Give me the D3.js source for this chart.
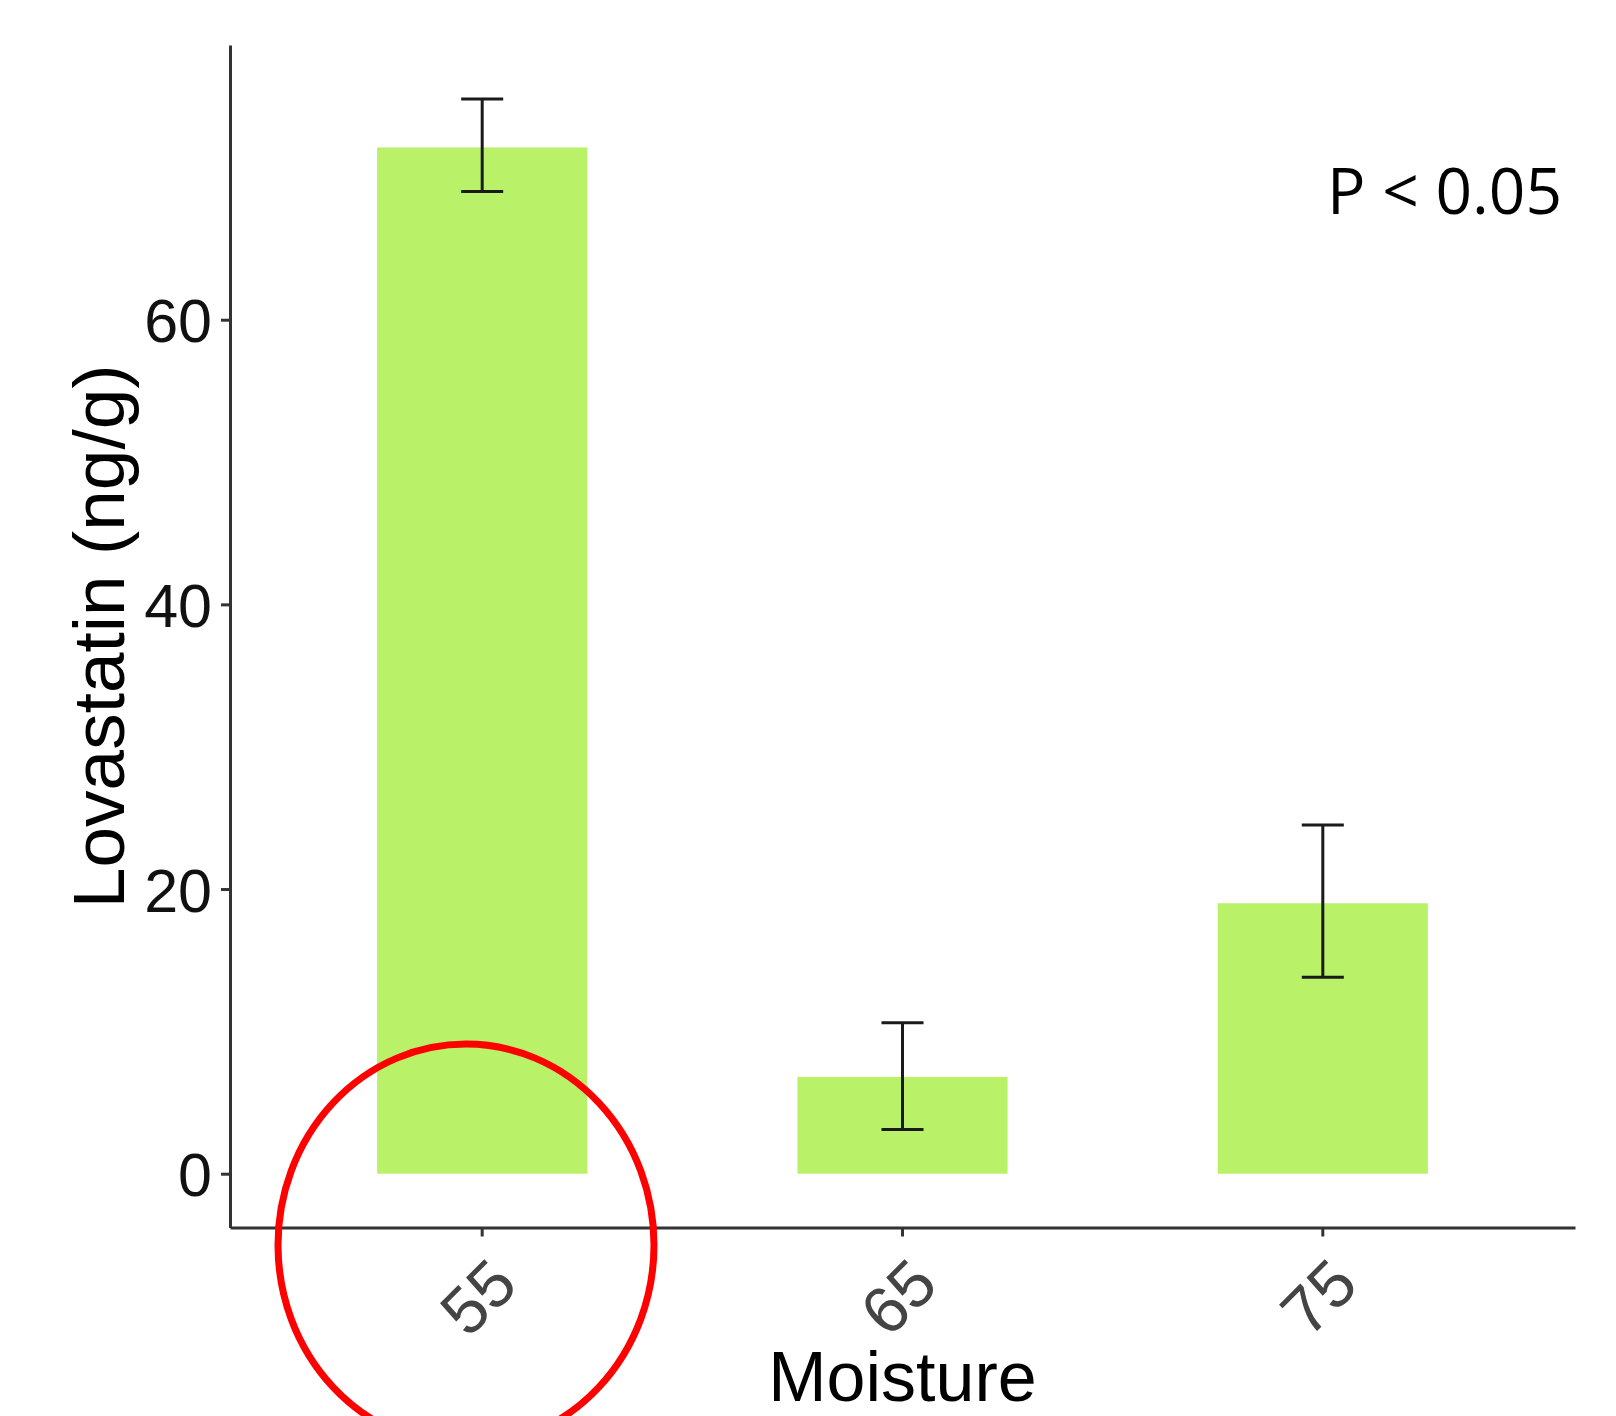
<!DOCTYPE html>
<html>
<head>
<meta charset="utf-8">
<script src="https://cdn.jsdelivr.net/npm/d3@7"></script>
<style>
  body { margin: 0; background: #fff; }
  svg { display: block; }
</style>
</head>
<body>
<script>
const width = 1616
const height = 1416

/* Data */
const moisture = ["55", "65", "75"]
const lovastatin = [72.1, 6.8, 19.0]
const errLow = [69.0, 3.1, 13.8]
const errHigh = [75.5, 10.6, 24.5]
const yTicks = [0, 20, 40, 60]

const svg = d3.select("body")
  .append("svg")
  .attr("width", width)
  .attr("height", height)

/* Panel edges */
const panelLeft = 230, panelRight = 1575, panelTop = 45, panelBottom = 1227.5

const x = d3.scaleBand()
  .domain(moisture)
  .range([panelLeft, panelRight])
  .paddingInner(0.5)
  .paddingOuter(0.35)

const y = d3.scaleLinear()
  .domain([-3.78, 79.3])
  .range([panelBottom, panelTop])

const rows = moisture.map((m, i) => ({m, v: lovastatin[i], lo: errLow[i], hi: errHigh[i]}))

/* Bars */
svg.append("g")
  .selectAll("rect")
  .data(rows)
  .join("rect")
  .attr("x", d => x(d.m))
  .attr("width", x.bandwidth())
  .attr("y", d => y(d.v))
  .attr("height", d => y(0) - y(d.v))
  .attr("fill", "#b9f168")

/* Error bars */
const cap = x.bandwidth() * 0.2
const eb = svg.append("g")
  .attr("stroke", "#1a1a1a")
  .attr("stroke-width", 3)
  .selectAll("g")
  .data(rows)
  .join("g")
  .attr("transform", d => `translate(${x(d.m) + x.bandwidth() / 2},0)`)
eb.append("line").attr("y1", d => y(d.lo)).attr("y2", d => y(d.hi))
eb.append("line").attr("x1", -cap / 2).attr("x2", cap / 2).attr("y1", d => y(d.hi)).attr("y2", d => y(d.hi))
eb.append("line").attr("x1", -cap / 2).attr("x2", cap / 2).attr("y1", d => y(d.lo)).attr("y2", d => y(d.lo))

/* Y axis */
const yAxis = svg.append("g")
  .attr("transform", `translate(${panelLeft},0)`)
  .call(d3.axisLeft(y).tickValues(yTicks).tickSize(9).tickSizeOuter(0).tickPadding(9))
yAxis.selectAll("path, line").attr("stroke", "#333").attr("stroke-width", 3)
yAxis.selectAll("text")
  .attr("font-family", "Liberation Sans, Arial, sans-serif")
  .attr("font-size", 61)
  .attr("fill", "#111")
  .attr("dy", "0.36em")

/* X axis */
const xAxis = svg.append("g")
  .attr("transform", `translate(0,${panelBottom})`)
  .call(d3.axisBottom(x).tickSize(9).tickSizeOuter(0).tickPadding(0))
xAxis.selectAll("path, line").attr("stroke", "#333").attr("stroke-width", 3)
xAxis.selectAll("text")
  .attr("font-family", "Liberation Sans, Arial, sans-serif")
  .attr("font-size", 66)
  .attr("fill", "#444")
  .attr("text-anchor", "end")
  .attr("dy", null)
  .attr("y", 0)
  .attr("transform", "translate(4,26) rotate(-45)")
  .attr("dominant-baseline", "hanging")

/* Axis titles */
svg.append("text")
  .attr("x", (panelLeft + panelRight) / 2)
  .attr("y", 1401)
  .attr("text-anchor", "middle")
  .attr("font-family", "Liberation Sans, Arial, sans-serif")
  .attr("font-size", 70)
  .attr("fill", "#000")
  .text("Moisture")

svg.append("text")
  .attr("transform", `translate(124,${(panelTop + panelBottom) / 2}) rotate(-90)`)
  .attr("text-anchor", "middle")
  .attr("font-family", "Liberation Sans, Arial, sans-serif")
  .attr("font-size", 73)
  .attr("fill", "#000")
  .text("Lovastatin (ng/g)")

/* Annotation */
svg.append("text")
  .attr("x", 1562)
  .attr("y", 214)
  .attr("text-anchor", "end")
  .attr("font-family", "Open Sans, Noto Sans, sans-serif")
  .attr("font-size", 64)
  .attr("fill", "#000")
  .text("P < 0.05")

/* Red highlight ring */
svg.append("ellipse")
  .attr("cx", 466)
  .attr("cy", 1245)
  .attr("rx", 188)
  .attr("ry", 201)
  .attr("fill", "none")
  .attr("stroke", "#ff0000")
  .attr("stroke-width", 7)
</script>
</body>
</html>
